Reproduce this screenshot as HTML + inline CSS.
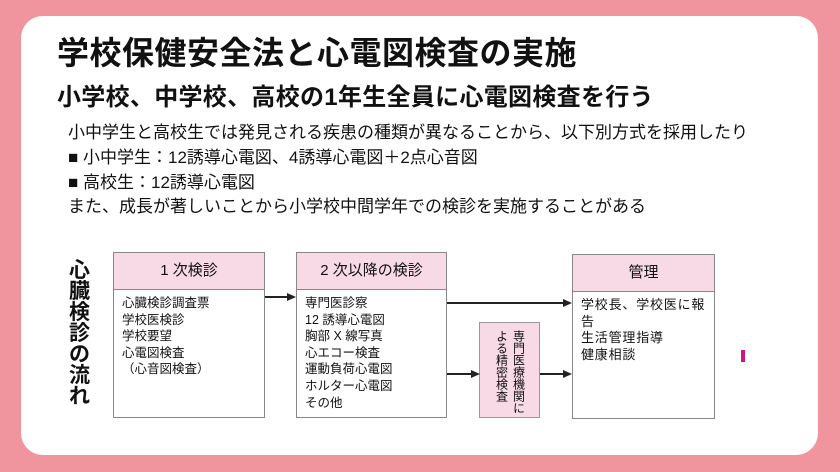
<!DOCTYPE html>
<html><head><meta charset="utf-8"><style>
body{margin:0;width:840px;height:472px;background:#f0959d;position:relative;overflow:hidden;font-family:"Liberation Sans","Noto Sans CJK JP",sans-serif;color:#111}
.card{position:absolute;left:21px;top:16px;width:797px;height:439px;background:#fff;border-radius:22px}
.a{position:absolute;white-space:nowrap}
.box{position:absolute;border:1.5px solid #888;background:#fff;box-sizing:border-box}
.hd{height:36px;background:#f8d9e6;border-bottom:1.5px solid #888;text-align:center;line-height:36px;font-size:15px}
.bd{padding:5px 8px;font-size:12.5px;line-height:16.6px}
.ln{position:absolute;height:1.5px;background:#222}
.ar{position:absolute;width:0;height:0;border-left:9px solid #222;border-top:4px solid transparent;border-bottom:4px solid transparent}
</style></head><body>
<div class="card"></div>
<div class="a" style="left:57px;top:28px;font-size:32px;font-weight:bold;letter-spacing:0.5px">学校保健安全法と心電図検査の実施</div>
<div class="a" style="left:57px;top:77px;font-size:24px;font-weight:bold;letter-spacing:0.3px">小学校、中学校、高校の1年生全員に心電図検査を行う</div>
<div class="a" style="left:68px;top:121px;font-size:17px;line-height:24.8px">小中学生と高校生では発見される疾患の種類が異なることから、以下別方式を採用したり<br>■ 小中学生：12誘導心電図、4誘導心電図＋2点心音図<br>■ 高校生：12誘導心電図<br>また、成長が著しいことから小学校中間学年での検診を実施することがある</div>
<div class="a" style="left:69px;top:260px;width:24px;font-size:21px;font-weight:bold;line-height:21px;white-space:normal">心臓検診の流れ</div>
<div class="box" style="left:113px;top:252px;width:152px;height:166px"><div class="hd">1 次検診</div><div class="bd">心臓検診調査票<br>学校医検診<br>学校要望<br>心電図検査<br>（心音図検査）</div></div>
<div class="box" style="left:296px;top:252px;width:151px;height:166px"><div class="hd">2 次以降の検診</div><div class="bd">専門医診察<br>12 誘導心電図<br>胸部 X 線写真<br>心エコー検査<br>運動負荷心電図<br>ホルター心電図<br>その他</div></div>
<div class="box" style="left:572px;top:254px;width:143px;height:165px"><div class="hd">管理</div><div class="bd" style="font-size:13px;letter-spacing:0.8px">学校長、学校医に報<br>告<br>生活管理指導<br>健康相談</div></div>
<div class="box" style="left:479px;top:322px;width:61px;height:96px;background:#f8d9e6;border-color:#999"><div style="writing-mode:vertical-rl;font-size:12px;line-height:17px;margin:7px auto 0;height:86px">専門医療機関に<br>よる精密検査</div></div>
<div class="ln" style="left:265px;top:296px;width:24px"></div><div class="ar" style="left:287px;top:293px"></div>
<div class="ln" style="left:447px;top:302px;width:118px"></div><div class="ar" style="left:563px;top:299px"></div>
<div class="ln" style="left:447px;top:373px;width:26px"></div><div class="ar" style="left:471px;top:370px"></div>
<div class="ln" style="left:540px;top:373px;width:25px"></div><div class="ar" style="left:563px;top:370px"></div>
<div class="a" style="left:741px;top:350px;width:4px;height:12px;background:#d0187a"></div>
</body></html>
